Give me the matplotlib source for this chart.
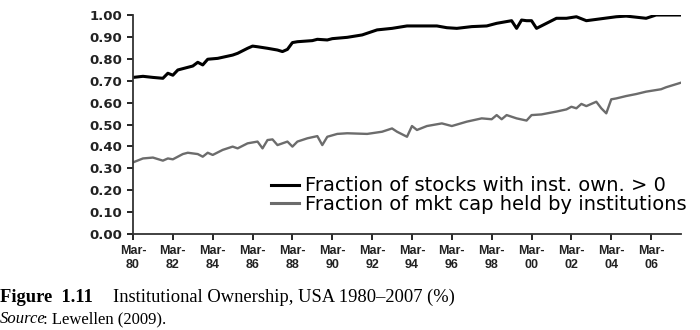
import matplotlib
matplotlib.use("Agg")
import matplotlib.pyplot as plt
import numpy as np

# Quarter index since Mar-80 (0 = Mar-80)
stocks_q = [0, 2, 4, 6, 7, 8, 9, 12, 13, 14, 15, 17, 20, 21, 23, 24, 25, 27, 29, 30, 31, 32, 33, 36, 37, 39, 40, 43,
            46, 49, 52, 55, 58, 61, 63, 65, 68, 71, 73, 75, 76, 77, 78, 79, 80, 81, 85, 87, 89, 91, 93, 97, 99, 103, 105, 110]
stocks_v = [0.715, 0.72, 0.715, 0.711, 0.734, 0.725, 0.749, 0.767, 0.784, 0.772, 0.798, 0.802, 0.817, 0.825, 0.848,
            0.858, 0.855, 0.848, 0.840, 0.833, 0.843, 0.874, 0.878, 0.883, 0.889, 0.886, 0.892, 0.898,
            0.909, 0.932, 0.939, 0.950, 0.950, 0.950, 0.942, 0.939, 0.947, 0.950, 0.962, 0.970, 0.974, 0.939, 0.977,
            0.974, 0.974, 0.939, 0.985, 0.985, 0.992, 0.974, 0.980, 0.992, 0.995, 0.985, 1.00, 1.00]

mktcap_q = [0, 2, 4, 6, 7, 8, 10, 11, 13, 14, 15, 16, 18, 20, 21, 23, 25, 26, 27, 28, 29, 31, 32, 33, 35, 37, 38, 39,
            41, 43, 47, 50, 52, 53, 55, 56, 57, 59, 62, 64, 67, 70, 72, 73, 74, 75, 77, 79, 80, 82, 85, 87, 88, 89,
            90, 91, 93, 94, 95, 96, 97, 99, 101, 103, 106, 107, 110]
mktcap_v = [0.327, 0.345, 0.349, 0.335, 0.345, 0.341, 0.365, 0.371, 0.365, 0.353, 0.371, 0.361, 0.384, 0.399, 0.391,
            0.414, 0.422, 0.391, 0.429, 0.432, 0.406, 0.422, 0.399, 0.422, 0.437, 0.447, 0.406, 0.444,
            0.457, 0.460, 0.457, 0.467, 0.482, 0.467, 0.444, 0.493, 0.475, 0.493, 0.505, 0.493, 0.513, 0.528, 0.524,
            0.543, 0.524, 0.543, 0.528, 0.518, 0.543, 0.546, 0.559, 0.569, 0.581, 0.574,
            0.594, 0.584, 0.604, 0.574, 0.551, 0.615, 0.619, 0.630, 0.639, 0.650, 0.661, 0.670, 0.691]

tick_labels = ["Mar-\n80", "Mar-\n82", "Mar-\n84", "Mar-\n86", "Mar-\n88", "Mar-\n90", "Mar-\n92",
               "Mar-\n94", "Mar-\n96", "Mar-\n98", "Mar-\n00", "Mar-\n02", "Mar-\n04", "Mar-\n06"]
y_ticks = [0.0, 0.1, 0.2, 0.3, 0.4, 0.5, 0.6, 0.7, 0.8, 0.9, 1.0]

label_stocks = "Fraction of stocks with inst. own. > 0"
label_mktcap = "Fraction of mkt cap held by institutions"

plt.rcParams['font.family'] = ['Liberation Sans', 'DejaVu Sans']

W, H = 700, 330
fig = plt.figure(figsize=(7, 3.3), dpi=100)
ax = fig.add_axes([133 / W, 1 - 234 / H, (681 - 133) / W, (234 - 15) / H])

ax.plot(stocks_q, stocks_v, color="black", lw=2.2, label=label_stocks, solid_joinstyle="round")
ax.plot(mktcap_q, mktcap_v, color="#6c6c6c", lw=1.7, label=label_mktcap, solid_joinstyle="round")

ax.set_xlim(0, 110)
ax.set_ylim(0, 1.0)
ax.set_yticks(y_ticks)
ax.set_yticklabels([f"{v:.2f}" for v in y_ticks], fontsize=9.5, fontweight="bold", color="#222222",
                   family="DejaVu Sans")
ax.set_xticks(np.arange(len(tick_labels)) * 8)
ax.set_xticklabels(tick_labels, fontsize=9, fontweight="bold", color="#222222", linespacing=1.25)
ax.tick_params(axis="y", direction="out", length=4, width=1.2, pad=4)
ax.tick_params(axis="x", direction="out", length=4, width=1.2, pad=4)

for s in ["top", "right"]:
    ax.spines[s].set_visible(False)
for s in ["left", "bottom"]:
    ax.spines[s].set_linewidth(1.3)
    ax.spines[s].set_color("#333333")

leg = fig.legend(loc="center left", bbox_to_anchor=(271 / W, 1 - 195 / H), frameon=False,
                 prop={"family": "DejaVu Sans", "size": 14},
                 handlelength=1.45, handletextpad=0.3, labelspacing=-0.05, borderpad=0, borderaxespad=0)
for line in leg.get_lines():
    line.set_linewidth(2.2)

serif = "Liberation Serif"
fig.canvas.draw()
r = fig.canvas.get_renderer()
fig.text(0.0, 1 - 302 / H, "Figure  1.11", family=serif, fontweight="bold", fontsize=13.3)
fig.text(113 / W, 1 - 302 / H, "Institutional Ownership, USA 1980\u20132007 (%)", family=serif, fontsize=13.3)
t2 = fig.text(0.0, 1 - 323 / H, "Source", family=serif, style="italic", fontsize=12)
bb = t2.get_window_extent(renderer=r)
fig.text((bb.x1 - 3) / W, 1 - 323 / H, ": Lewellen (2009).", family=serif, fontsize=12)

fig.savefig("out.png", dpi=100)
